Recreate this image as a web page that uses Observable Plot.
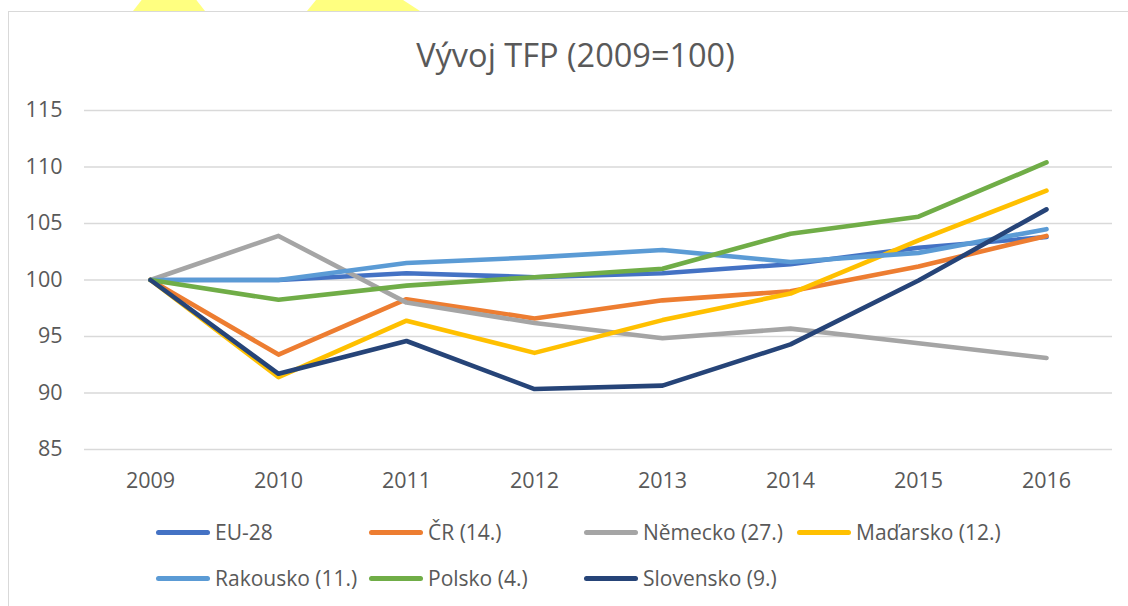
<!DOCTYPE html>
<html><head><meta charset="utf-8">
<script src="https://cdn.jsdelivr.net/npm/d3@7"></script>
<script src="https://cdn.jsdelivr.net/npm/@observablehq/plot@0.6"></script>
<style>
body{margin:0;background:#fff;width:1128px;height:606px;overflow:hidden;position:relative;font-family:"Open Sans",sans-serif;color:#595959}
#frame{position:absolute;left:8px;top:11px;width:1200px;height:700px;border-left:1.5px solid #d9d9d9;border-top:1.5px solid #d9d9d9;box-sizing:border-box}
.hl{position:absolute;top:0;height:11px;background:#ffff80}
#title{position:absolute;top:34px;left:8px;width:1135px;text-align:center;font-size:32.5px;line-height:42px;white-space:nowrap}
#chart{position:absolute;left:0;top:90px}
#legend{position:absolute;left:156px;top:514px;width:900px}
.item{position:absolute;display:flex;align-items:center;height:36px;font-size:21px;white-space:nowrap}
.sw{width:54px;height:5px;border-radius:3px;margin-right:5px}
</style>
</head><body>
<div class="hl" style="left:133px;width:72px;clip-path:polygon(12% 0,88% 0,100% 100%,0 100%)"></div>
<div class="hl" style="left:307px;width:113px;clip-path:polygon(8% 0,85% 0,100% 100%,0 100%)"></div>
<div id="frame"></div>
<div id="title">Vývoj TFP (2009=100)</div>
<div id="chart"></div>
<div id="legend"></div>
<script>
const years = [2009, 2010, 2011, 2012, 2013, 2014, 2015, 2016];
const yTicks = [85, 90, 95, 100, 105, 110, 115];
const seriesNames = ["EU-28", "ČR (14.)", "Německo (27.)", "Maďarsko (12.)", "Rakousko (11.)", "Polsko (4.)", "Slovensko (9.)"];
const seriesColors = ["#4472C4", "#ED7D31", "#A5A5A5", "#FFC000", "#5B9BD5", "#70AD47", "#264478"];
const eu28      = [100, 100.0, 100.6, 100.25, 100.6, 101.4, 102.85, 103.8];
const cr        = [100, 93.4, 98.3, 96.6, 98.2, 99.0, 101.2, 103.9];
const nemecko   = [100, 103.9, 98.0, 96.2, 94.85, 95.7, 94.4, 93.1];
const madarsko  = [100, 91.4, 96.4, 93.55, 96.45, 98.8, 103.5, 107.9];
const rakousko  = [100, 100.0, 101.5, 102.0, 102.65, 101.6, 102.4, 104.5];
const polsko    = [100, 98.25, 99.5, 100.25, 101.0, 104.1, 105.6, 110.4];
const slovensko = [100, 91.7, 94.6, 90.35, 90.65, 94.3, 99.95, 106.25];
const seriesValues = [eu28, cr, nemecko, madarsko, rakousko, polsko, slovensko];

const rows = seriesNames.map((name, i) => years.map((year, j) => ({series: name, year, value: seriesValues[i][j]})));

const chart = Plot.plot({
  width: 1128, height: 410,
  marginTop: 20, marginBottom: 51, marginLeft: 84, marginRight: 16,
  style: {fontFamily: '"Open Sans", sans-serif', fontSize: "21.5px", color: "#595959", background: "transparent", overflow: "visible"},
  x: {type: "point", domain: years, padding: 0.5, label: null, tickSize: 0, tickPadding: 23, tickFormat: d => String(d)},
  y: {domain: [85, 115], ticks: yTicks, label: null, tickSize: 0, tickPadding: 22},
  color: {domain: seriesNames, range: seriesColors},
  marks: [
    Plot.ruleY(yTicks, {stroke: "#d9d9d9", strokeWidth: 1.5}),
    ...rows.map(r => Plot.line(r, {x: "year", y: "value", stroke: "series", strokeWidth: 4.6, strokeLinecap: "round", strokeLinejoin: "round"}))
  ]
});
document.getElementById("chart").appendChild(chart);

const legend = document.getElementById("legend");
const colX = [0, 213, 428, 641];
seriesNames.forEach((name, i) => {
  const row = Math.floor(i / 4), col = i % 4;
  const it = document.createElement("div");
  it.className = "item";
  it.style.left = colX[col] + "px";
  it.style.top = (row * 46) + "px";
  const sw = document.createElement("div");
  sw.className = "sw";
  sw.style.background = seriesColors[i];
  it.appendChild(sw);
  const t = document.createElement("span");
  t.textContent = name;
  it.appendChild(t);
  legend.appendChild(it);
});
</script>
</body></html>
